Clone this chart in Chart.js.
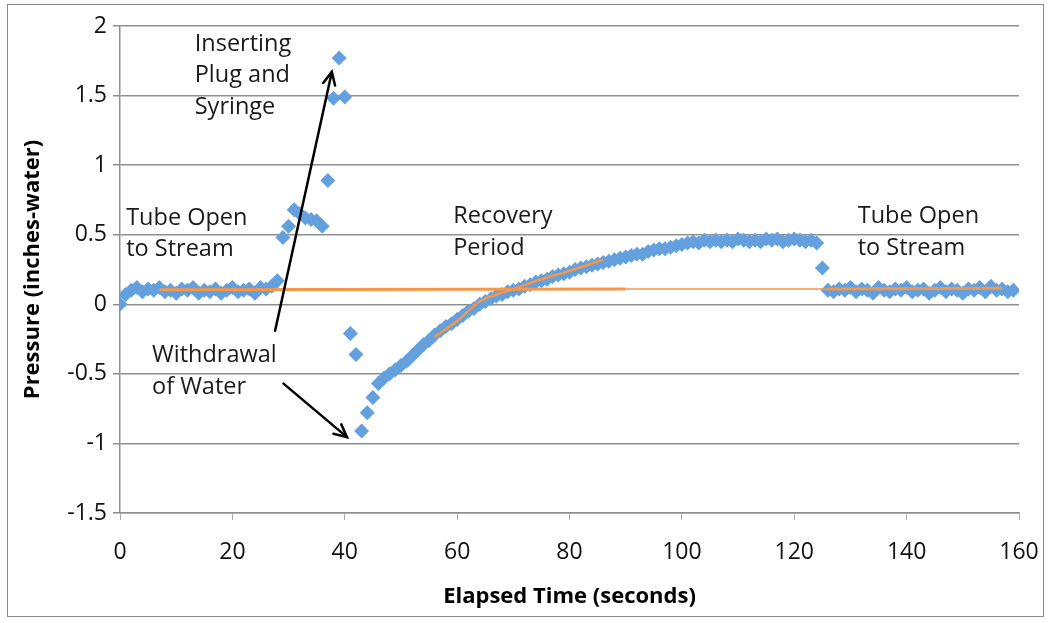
<!DOCTYPE html>
<html>
<head>
<meta charset="utf-8">
<script src="https://cdn.jsdelivr.net/npm/chart.js@4"></script>
<style>
  html, body { margin: 0; padding: 0; background: #fff; }
  #wrap { width: 1050px; height: 623px; }
</style>
</head>
<body>
<div id="wrap"><canvas id="pressureChart" width="1050" height="623"></canvas></div>
<script>
// Elapsed time (s) and pressure (inches-water)
const times = [
  0, 1, 2, 3, 4, 5, 6, 7, 8, 9, 10, 11, 12, 13, 14, 15, 16, 17, 18, 19,
  20, 21, 22, 23, 24, 25, 26, 27, 28, 29, 30, 31, 32, 33, 34, 35, 36, 37, 38, 39,
  40, 41, 42, 43, 44, 45, 46, 47, 48, 49, 50, 51, 52, 53, 54, 55, 56, 57, 58, 59,
  60, 61, 62, 63, 64, 65, 66, 67, 68, 69, 70, 71, 72, 73, 74, 75, 76, 77, 78, 79,
  80, 81, 82, 83, 84, 85, 86, 87, 88, 89, 90, 91, 92, 93, 94, 95, 96, 97, 98, 99,
  100, 101, 102, 103, 104, 105, 106, 107, 108, 109, 110, 111, 112, 113, 114, 115, 116, 117, 118, 119,
  120, 121, 122, 123, 124, 125, 126, 127, 128, 129, 130, 131, 132, 133, 134, 135, 136, 137, 138, 139,
  140, 141, 142, 143, 144, 145, 146, 147, 148, 149, 150, 151, 152, 153, 154, 155, 156, 157, 158, 159
];

const pressure = [
  0.00, 0.07, 0.10, 0.12, 0.09, 0.11, 0.10, 0.12, 0.09, 0.10, 0.08, 0.11, 0.10, 0.12, 0.08, 0.10, 0.09, 0.11, 0.08, 0.10,
  0.12, 0.09, 0.10, 0.11, 0.08, 0.12, 0.11, 0.13, 0.17, 0.48, 0.56, 0.68, 0.65, 0.62, 0.61, 0.60, 0.56, 0.89, 1.48, 1.77,
  1.49, -0.21, -0.36, -0.91, -0.78, -0.67, -0.57, -0.53, -0.50, -0.47, -0.44, -0.41, -0.37, -0.33, -0.29, -0.26, -0.22, -0.19, -0.16, -0.14,
  -0.11, -0.08, -0.05, -0.03, 0.00, 0.02, 0.04, 0.06, 0.07, 0.09, 0.10, 0.11, 0.13, 0.14, 0.16, 0.17, 0.18, 0.20, 0.21, 0.22,
  0.23, 0.25, 0.26, 0.27, 0.28, 0.29, 0.30, 0.31, 0.32, 0.33, 0.34, 0.35, 0.36, 0.36, 0.38, 0.39, 0.40, 0.40, 0.41, 0.42,
  0.43, 0.44, 0.45, 0.44, 0.46, 0.45, 0.46, 0.45, 0.46, 0.45, 0.47, 0.46, 0.45, 0.46, 0.45, 0.47, 0.46, 0.47, 0.45, 0.46,
  0.47, 0.46, 0.45, 0.46, 0.44, 0.26, 0.10, 0.09, 0.11, 0.10, 0.12, 0.09, 0.11, 0.10, 0.08, 0.12, 0.10, 0.09, 0.11, 0.10,
  0.12, 0.09, 0.10, 0.11, 0.08, 0.10, 0.12, 0.09, 0.11, 0.10, 0.08, 0.11, 0.10, 0.12, 0.09, 0.13, 0.10, 0.11, 0.09, 0.10
];

// Trend lines (orange)
const baseTrendX = [7, 90];
const baseTrendY = [0.105, 0.11];
const midTrendX = [90, 126];
const midTrendY = [0.11, 0.11];
const endTrendX = [126, 157];
const endTrendY = [0.11, 0.115];
const recoveryTrendX = [56, 60, 64, 67, 70, 75, 80, 86];
const recoveryTrendY = [-0.235, -0.12, 0.02, 0.07, 0.11, 0.18, 0.24, 0.32];

const xTicks = [0, 20, 40, 60, 80, 100, 120, 140, 160];
const yTicks = [-1.5, -1, -0.5, 0, 0.5, 1, 1.5, 2];

const toPoints = (xs, ys) => xs.map((x, i) => ({ x: x, y: ys[i] }));

// Text notes and arrows, placed in data units
const notes = [
  { x: 13.3, y: 1.87, lines: ["Inserting", "Plug and", "Syringe"] },
  { x: 1.1, y: 0.62, lines: ["Tube Open", "to Stream"] },
  { x: 59.3, y: 0.63, lines: ["Recovery", "Period"] },
  { x: 131.3, y: 0.63, lines: ["Tube Open", "to Stream"] },
  { x: 5.7, y: -0.37, lines: ["Withdrawal", "of Water"] },
];
const arrows = [
  { from: [27.6, -0.19], to: [37.7, 1.67] },
  { from: [29.1, -0.57], to: [40.4, -0.955] },
];

const gridGray = "#8f8f8f";
const textFont = "'Open Sans', 'DejaVu Sans', sans-serif";

const notesPlugin = {
  id: "notes",
  beforeDraw(chart) {
    const ctx = chart.ctx;
    ctx.save();
    ctx.strokeStyle = "#8a8a8a";
    ctx.lineWidth = 1;
    ctx.strokeRect(7.5, 4.5, 1036, 612);
    ctx.restore();
  },
  afterDatasetsDraw(chart) {
    const ctx = chart.ctx;
    const xs = chart.scales.x;
    const ys = chart.scales.y;
    ctx.save();
    ctx.fillStyle = "#1a1a1a";
    ctx.font = "23.5px " + textFont;
    ctx.textAlign = "left";
    ctx.textBaseline = "middle";
    notes.forEach((n) => {
      const px = xs.getPixelForValue(n.x);
      const py = ys.getPixelForValue(n.y);
      n.lines.forEach((line, i) => {
        ctx.fillText(line, px, py + i * 31.5);
      });
    });

    ctx.strokeStyle = "#000";
    ctx.lineWidth = 2.5;
    ctx.lineCap = "round";
    arrows.forEach((a) => {
      const x1 = xs.getPixelForValue(a.from[0]);
      const y1 = ys.getPixelForValue(a.from[1]);
      const x2 = xs.getPixelForValue(a.to[0]);
      const y2 = ys.getPixelForValue(a.to[1]);
      ctx.beginPath();
      ctx.moveTo(x1, y1);
      ctx.lineTo(x2, y2);
      ctx.stroke();
      const ang = Math.atan2(y2 - y1, x2 - x1);
      const head = 14;
      ctx.beginPath();
      ctx.moveTo(x2 - head * Math.cos(ang - 0.45), y2 - head * Math.sin(ang - 0.45));
      ctx.lineTo(x2, y2);
      ctx.lineTo(x2 - head * Math.cos(ang + 0.45), y2 - head * Math.sin(ang + 0.45));
      ctx.stroke();
    });
    ctx.restore();
  },
};

const orange = "#f79646";

new Chart(document.getElementById("pressureChart"), {
  type: "scatter",
  data: {
    datasets: [
      {
        label: "Base trend",
        type: "line",
        data: toPoints(baseTrendX, baseTrendY),
        borderColor: orange,
        borderWidth: 3,
        pointRadius: 0,
        order: 0,
      },
      {
        label: "Mid trend",
        type: "line",
        data: toPoints(midTrendX, midTrendY),
        borderColor: orange,
        borderWidth: 1.5,
        pointRadius: 0,
        order: 0,
      },
      {
        label: "End trend",
        type: "line",
        data: toPoints(endTrendX, endTrendY),
        borderColor: orange,
        borderWidth: 3,
        pointRadius: 0,
        order: 0,
      },
      {
        label: "Recovery trend",
        type: "line",
        data: toPoints(recoveryTrendX, recoveryTrendY),
        borderColor: orange,
        borderWidth: 2.5,
        pointRadius: 0,
        cubicInterpolationMode: "monotone",
        order: 0,
      },
      {
        label: "Pressure",
        data: toPoints(times, pressure),
        pointStyle: "rectRot",
        pointRadius: 7.5,
        pointBackgroundColor: "#64a0de",
        pointBorderColor: "#64a0de",
        pointBorderWidth: 0,
        order: 1,
      },
    ],
  },
  options: {
    responsive: false,
    animation: false,
    layout: { autoPadding: false, padding: { left: 0, top: 26, right: 31, bottom: 0 } },
    plugins: {
      legend: { display: false },
      tooltip: { enabled: false },
    },
    scales: {
      x: {
        type: "linear",
        min: 0,
        max: 160,
        afterBuildTicks: (s) => { s.ticks = xTicks.map((v) => ({ value: v })); },
        afterFit: (s) => {
          s.height = 110;
          s.paddingLeft = 0;
          s.paddingRight = 0;
        },
        grid: { drawOnChartArea: false, drawTicks: true, tickLength: 7, color: "#b0b0b0" },
        border: { color: gridGray, width: 1.5 },
        ticks: {
          color: "#111",
          font: { family: textFont, size: 23 },
          padding: 19,
          maxRotation: 0,
          callback: (v) => String(v),
        },
        title: {
          display: true,
          text: "Elapsed Time (seconds)",
          color: "#000",
          font: { family: textFont, size: 22, weight: "bold" },
          padding: { top: 0, bottom: 13 },
        },
      },
      y: {
        min: -1.5,
        max: 2,
        afterBuildTicks: (s) => { s.ticks = yTicks.map((v) => ({ value: v })); },
        afterFit: (s) => {
          s.width = 120;
          s.paddingTop = 0;
          s.paddingBottom = 0;
        },
        grid: { color: gridGray, lineWidth: 1.5, tickLength: 7 },
        border: { color: gridGray, width: 1.5 },
        ticks: {
          color: "#111",
          font: { family: textFont, size: 23 },
          padding: 6,
          callback: (v) => String(v),
        },
        title: {
          display: true,
          text: "Pressure (inches-water)",
          color: "#000",
          font: { family: textFont, size: 22, weight: "bold" },
          padding: { top: 20, bottom: 0 },
        },
      },
    },
  },
  plugins: [notesPlugin],
});
</script>
</body>
</html>
